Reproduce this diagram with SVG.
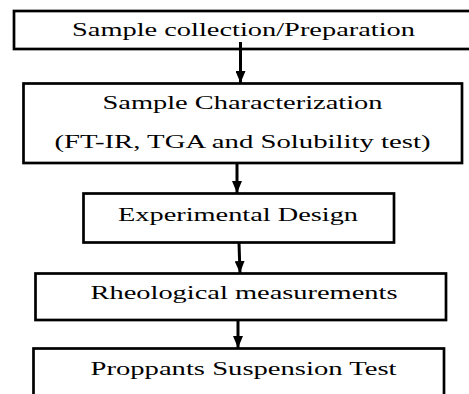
<svg xmlns="http://www.w3.org/2000/svg" width="469" height="394" viewBox="0 0 469 394">
  <style>
    .box { fill: #ffffff; stroke: #000000; stroke-width: 2.7; }
    .lbl { font-family: "Liberation Serif", "Times New Roman", serif; font-size: 19px; fill: #000000; text-anchor: middle; }
    .conn { stroke: #000000; stroke-width: 3; fill: none; }
  </style>
  <defs>
    <marker id="head" viewBox="0 0 12 10" refX="12" refY="5" markerWidth="12" markerHeight="10" markerUnits="userSpaceOnUse" orient="auto">
      <path d="M0,0 L12,5 L0,10 Z" fill="#000000"/>
    </marker>
  </defs>
  <rect width="469" height="394" fill="#ffffff"/>

  <!-- flowchart steps, top to bottom -->
  <g id="node-collection">
    <rect class="box" x="14" y="11" width="470" height="38"/>
    <text class="lbl" x="243.5" y="35.5" textLength="343" lengthAdjust="spacingAndGlyphs">Sample collection/Preparation</text>
  </g>
  <g id="node-characterization">
    <rect class="box" x="23.5" y="83.5" width="438.5" height="79.5"/>
    <text class="lbl" x="242.5" y="108.5" textLength="280" lengthAdjust="spacingAndGlyphs">Sample Characterization</text>
    <text class="lbl" x="242.5" y="148" textLength="376" lengthAdjust="spacingAndGlyphs">(FT-IR, TGA and Solubility test)</text>
  </g>
  <g id="node-design">
    <rect class="box" x="83.5" y="193.5" width="310.5" height="49"/>
    <text class="lbl" x="238" y="220.5" textLength="240" lengthAdjust="spacingAndGlyphs">Experimental Design</text>
  </g>
  <g id="node-rheology">
    <rect class="box" x="35.5" y="273.5" width="410.5" height="46.5"/>
    <text class="lbl" x="244" y="298.5" textLength="307" lengthAdjust="spacingAndGlyphs">Rheological measurements</text>
  </g>
  <g id="node-proppants">
    <rect class="box" x="33.5" y="348.5" width="410.5" height="60"/>
    <text class="lbl" x="243.5" y="374.5" textLength="306" lengthAdjust="spacingAndGlyphs">Proppants Suspension Test</text>
  </g>

  <!-- connectors -->
  <g id="connectors">
    <line class="conn" x1="240.5" y1="42" x2="240.5" y2="83" marker-end="url(#head)"/>
    <line class="conn" x1="237" y1="163" x2="237" y2="193" marker-end="url(#head)"/>
    <line class="conn" x1="239" y1="243" x2="240" y2="273" marker-end="url(#head)"/>
    <line class="conn" x1="238" y1="321" x2="238" y2="348" marker-end="url(#head)"/>
  </g>
</svg>
